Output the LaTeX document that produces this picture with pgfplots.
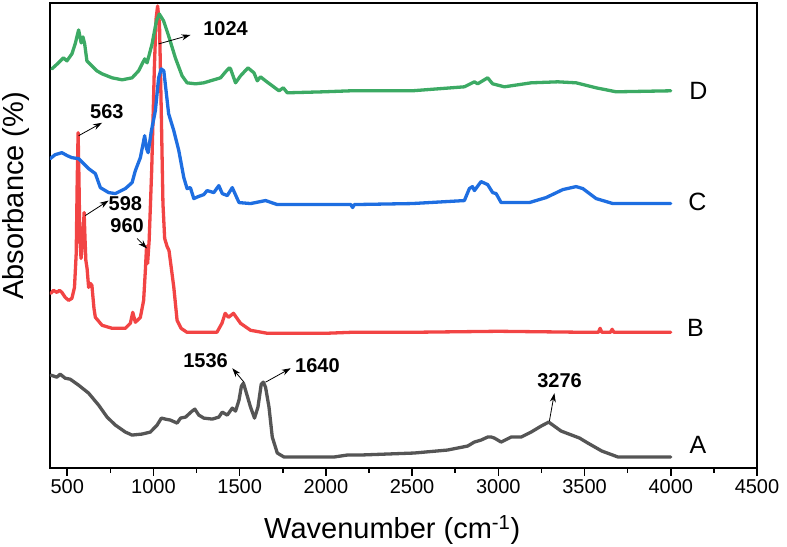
\documentclass[border=0pt]{standalone}
\usepackage{fontspec}
\setmainfont{Liberation Sans}
\usepackage{pgfplots}
\pgfplotsset{compat=1.18}
\usetikzlibrary{arrows.meta}
\definecolor{cA}{RGB}{85,85,85}
\definecolor{cB}{RGB}{242,68,68}
\definecolor{cC}{RGB}{30,110,225}
\definecolor{cD}{RGB}{60,170,100}
\begin{document}
\begin{tikzpicture}
\begin{axis}[name=ax,
  scale only axis, width=707pt, height=465pt,
  xmin=400, xmax=4500, ymin=0, ymax=466,
  xtick={500,1000,...,4500}, minor x tick num=1,
  ytick=\empty,
  xtick pos=bottom, tick align=outside,
  major tick length=8pt, minor tick length=5pt,
  every tick/.style={black, line width=1.6pt},
  axis line style={line width=1.8pt},
  /pgf/number format/assume math mode=true,
  /pgf/number format/set thousands separator={},
  tick label style={font=\fontsize{20}{22}\selectfont},
  xlabel={Wavenumber (cm\textsuperscript{-1})},
  ylabel={Absorbance (\%)},
  label style={font=\fontsize{29}{32}\selectfont},
  xlabel style={at={(axis description cs:0.484,-0.133)}, anchor=center},
  ylabel style={at={(axis description cs:-0.048,0.585)}, anchor=center},
  clip=true,
  every axis plot/.style={line join=round, line cap=round},
]
% A
\addplot[cA, line width=3.3pt] coordinates {
(405,93)(440,91)(459,94)(488,90)(517,89)(566,83)(624,75)(682,63)(731,51)(779,43)(837,36)(876,33)(934,34)(982,36)(1021,43)(1046,50)(1069,49)(1098,48)(1137,45)(1157,50)(1186,51)(1224,57)(1240,59)(1263,53)(1292,50)(1341,49)(1379,51)(1399,56)(1428,53)(1457,60)(1476,57)(1496,68)(1510,82)(1522,85)(1534,78)(1563,61)(1586,50)(1606,61)(1625,84)(1637,86)(1650,81)(1670,61)(1689,31)(1718,15)(1757,11)(1854,11)(2047,11)(2125,13)(2202,13)(2512,15)(2706,18)(2822,22)(2861,26)(2900,28)(2938,31)(2960,31)(2977,30)(3016,26)(3074,31)(3132,31)(3190,36)(3248,42)(3292,46)(3364,37)(3471,30)(3519,25)(3600,17)(3694,11)(4000,11)
};
% B
\addplot[cB, line width=3.3pt] coordinates {
(405,175)(420,178)(440,176)(455,178)(469,176)(488,171)(508,168)(527,170)(542,181)(552,215)(558,290)(563,336)(568,290)(573,230)(580,210)(590,230)(598,256)(603,230)(608,208)(615,200)(624,181)(634,185)(643,183)(655,160)(663,151)(702,143)(760,140)(837,140)(866,145)(880,156)(895,146)(924,151)(943,168)(953,198)(960,222)(966,205)(975,228)(990,300)(1005,400)(1015,450)(1024,463)(1035,445)(1045,360)(1055,265)(1065,230)(1079,222)(1090,218)(1100,205)(1118,181)(1137,148)(1160,140)(1194,136)(1368,136)(1397,145)(1416,155)(1435,151)(1464,155)(1505,145)(1563,138)(1660,135)(1854,135)(2000,135)(2150,136)(2500,136)(3000,137)(3500,136)(3580,136)(3590,140)(3600,136)(3650,136)(3660,139)(3670,136)(4000,136)
};
% C
\addplot[cC, line width=3.3pt] coordinates {
(401,310)(430,314)(469,316)(500,313)(527,311)(566,310)(595,305)(624,300)(663,295)(692,281)(740,276)(779,275)(837,280)(876,286)(895,298)(924,311)(949,333)(960,320)(969,316)(988,338)(1011,358)(1030,391)(1045,400)(1060,398)(1075,375)(1088,355)(1118,338)(1147,318)(1176,291)(1195,280)(1214,281)(1234,270)(1260,272)(1292,274)(1311,278)(1350,276)(1379,283)(1399,275)(1428,273)(1457,281)(1496,266)(1563,265)(1650,268)(1718,264)(1989,264)(2144,264)(2155,261)(2165,264)(2500,265)(2803,268)(2832,280)(2850,282)(2861,278)(2900,287)(2938,284)(2967,276)(2987,275)(3016,266)(3180,266)(3277,271)(3374,279)(3451,282)(3490,280)(3567,270)(3664,265)(4000,265)
};
% D
\addplot[cD, line width=3.3pt] coordinates {
(411,400)(449,406)(478,411)(498,408)(527,415)(546,425)(566,439)(581,426)(591,432)(601,425)(614,408)(643,403)(672,398)(702,395)(760,391)(818,389)(876,391)(914,398)(949,410)(963,406)(992,425)(1017,448)(1034,455)(1059,448)(1088,433)(1127,411)(1166,393)(1195,386)(1244,385)(1292,386)(1350,389)(1389,391)(1418,397)(1440,401)(1447,400)(1476,386)(1505,393)(1548,401)(1583,396)(1602,388)(1621,392)(1650,388)(1689,383)(1728,378)(1753,381)(1776,376)(1989,377)(2144,378)(2500,378)(2803,382)(2861,387)(2880,385)(2938,391)(2967,385)(3035,382)(3190,386)(3345,387)(3451,386)(3567,381)(3683,377)(4000,378)
};
% annotations
\begin{scope}[font=\fontsize{20}{22}\selectfont\bfseries]
\node at (axis cs:1418,440) {1024};
\node at (axis cs:730,357) {563};
\node at (axis cs:837,265) {598};
\node at (axis cs:847,243) {960};
\node at (axis cs:1302,108) {1536};
\node at (axis cs:1951,103) {1640};
\node at (axis cs:3355,88) {3276};
\end{scope}
\begin{scope}[-{Stealth[length=9pt,width=6pt]}, line width=0.8pt, black]
\draw (axis cs:1030,425) -- (axis cs:1215,434);
\draw (axis cs:566,333) -- (axis cs:702,346);
\draw (axis cs:605,253) -- (axis cs:740,268);
\draw (axis cs:905,230) -- (axis cs:963,220);
\draw (axis cs:1525,86) -- (axis cs:1457,100);
\draw (axis cs:1650,86) -- (axis cs:1796,100);
\draw (axis cs:3296,47) -- (axis cs:3325,75);
\end{scope}
\begin{scope}[font=\fontsize{25}{28}\selectfont]
\node at (axis cs:4158,23) {A};
\node at (axis cs:4143,140) {B};
\node at (axis cs:4155,267) {C};
\node at (axis cs:4160,378) {D};
\end{scope}
\end{axis}
\pgfresetboundingbox
\path ([shift={(-50pt,-79pt)}]ax.south west) rectangle ([shift={(30pt,3pt)}]ax.north east);
\end{tikzpicture}
\end{document}
